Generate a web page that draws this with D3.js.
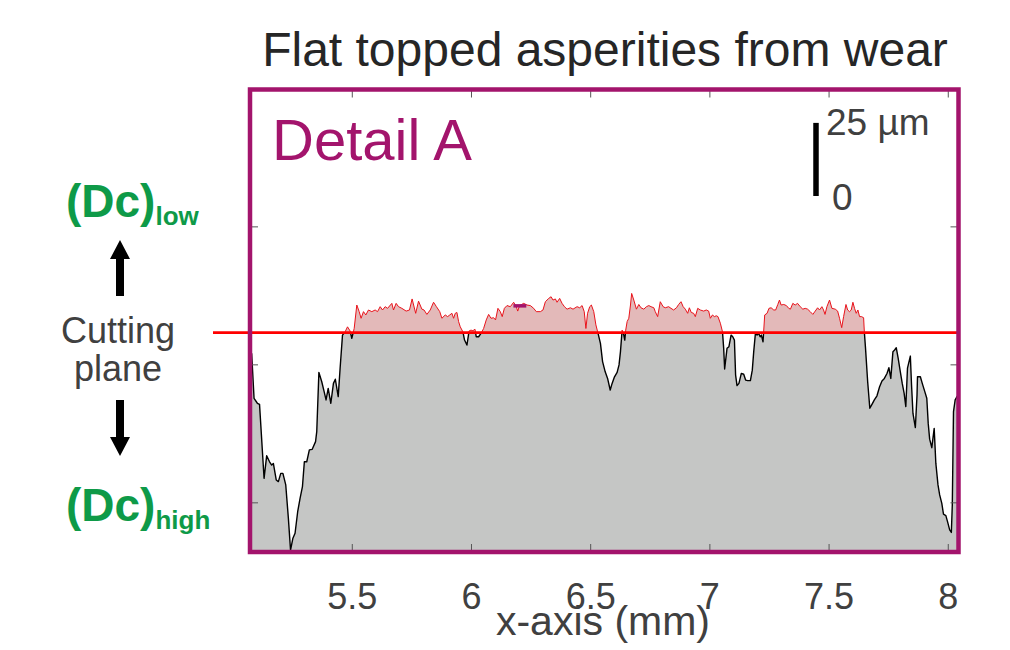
<!DOCTYPE html>
<html>
<head>
<meta charset="utf-8">
<script src="https://cdn.jsdelivr.net/npm/d3@7"></script>
<style>
	body { margin: 0; background: #fff; }
	svg { display: block; font-family: "Liberation Sans", Arial, Helvetica, sans-serif; }
</style>
</head>
<body>
<svg id="chart" width="1010" height="650"></svg>
<script>
// surface profile, [x in mm, height in um]
var profile = [
	[5.080,4.0],[5.090,-12.3],[5.104,-14.1],[5.113,-14.5],[5.132,-41.3],[5.143,-33.1],[5.155,-35.3],[5.164,-36.5],
	[5.171,-35.9],[5.183,-41.9],[5.192,-42.5],[5.202,-39.5],[5.211,-39.5],[5.223,-43.7],[5.234,-55.8],[5.243,-67.3],
	[5.253,-63.0],[5.262,-61.2],[5.273,-53.4],[5.283,-48.6],[5.293,-44.3],[5.301,-35.3],[5.311,-35.3],[5.322,-31.0],
	[5.334,-30.8],[5.348,-28.0],[5.353,-24.4],[5.362,-2.9],[5.374,-6.3],[5.384,-9.9],[5.392,-12.9],[5.401,-8.7],
	[5.412,-14.1],[5.423,-6.9],[5.431,-5.4],[5.443,-11.7],[5.451,-1.4],[5.461,10.6],[5.472,11.8],[5.482,13.6],
	[5.493,12.1],[5.500,9.4],[5.510,13.0],[5.521,21.5],[5.531,19.1],[5.539,16.7],[5.549,19.1],[5.559,17.9],
	[5.570,19.7],[5.584,19.1],[5.598,19.7],[5.608,19.1],[5.619,20.9],[5.629,19.7],[5.640,20.9],[5.650,20.3],
	[5.668,22.1],[5.675,19.7],[5.686,22.1],[5.696,20.9],[5.710,20.3],[5.728,19.3],[5.742,19.7],[5.753,23.7],
	[5.768,18.5],[5.780,22.9],[5.794,20.0],[5.803,19.7],[5.815,18.1],[5.829,19.7],
	[5.843,22.5],[5.855,20.9],[5.869,19.1],[5.878,16.7],[5.892,17.9],[5.902,17.3],[5.911,17.9],[5.920,18.5],
	[5.927,16.7],[5.934,18.5],[5.941,18.8],[5.948,15.5],[5.955,13.6],[5.966,11.8],[5.973,8.8],[5.983,7.0],
	[5.992,12.1],[6.000,12.4],[6.008,12.2],[6.017,12.7],[6.022,10.0],[6.032,10.0],[6.042,11.2],[6.053,13.0],
	[6.064,16.1],[6.074,18.1],[6.084,16.7],[6.095,16.9],[6.103,16.1],[6.113,20.3],[6.123,19.1],[6.131,17.3],
	[6.140,20.3],[6.151,21.3],[6.165,20.9],[6.179,22.5],[6.190,20.9],[6.196,19.3],[6.204,21.3],[6.221,22.1],
	[6.235,21.5],[6.249,21.3],[6.263,20.3],[6.274,19.1],[6.291,19.1],[6.302,19.7],[6.312,22.7],[6.326,23.9],
	[6.336,24.5],[6.344,23.3],[6.354,23.7],[6.361,22.5],[6.372,23.9],[6.382,22.1],[6.392,20.9],[6.403,20.0],
	[6.417,20.5],[6.428,20.0],[6.445,20.9],[6.456,20.5],[6.466,21.3],[6.475,19.1],[6.482,13.0],[6.489,18.5],
	[6.498,20.9],[6.505,21.5],[6.515,19.1],[6.524,14.3],[6.533,11.2],[6.543,7.6],[6.552,1.0],[6.563,-2.7],
	[6.573,-5.1],[6.584,-9.3],
	[6.592,-6.9],[6.602,-4.5],[6.613,-2.9],[6.621,-0.2],[6.627,4.6],[6.634,12.4],[6.641,10.6],[6.645,8.8],
	[6.649,12.4],[6.655,15.5],[6.662,16.7],[6.669,21.5],[6.674,25.7],[6.683,23.3],[6.694,20.0],[6.704,21.7],
	[6.713,20.5],[6.725,20.0],[6.736,20.9],[6.746,21.3],[6.755,20.9],[6.767,20.5],[6.773,19.1],[6.783,17.3],
	[6.794,22.7],[6.806,20.9],[6.815,20.5],[6.829,20.9],[6.839,20.3],[6.850,19.7],[6.862,20.5],[6.871,21.7],
	[6.881,22.7],[6.890,20.9],[6.899,20.0],[6.909,18.5],[6.916,20.5],[6.924,18.8],[6.934,18.5],[6.941,17.3],
	[6.951,20.3],[6.962,19.7],[6.976,19.3],[6.987,19.7],[6.997,19.3],[7.004,16.7],[7.013,17.9],[7.021,17.3],
	[7.029,17.6],[7.036,17.3],[7.046,14.9],[7.055,11.8],[7.060,5.8],[7.064,-1.7],[7.070,2.8],[7.074,5.8],
	[7.082,6.4],[7.091,10.6],[7.098,10.0],[7.105,8.8],[7.110,-3.9],[7.116,-7.7],[7.124,-6.9],[7.134,-3.3],
	[7.144,-3.6],[7.152,-5.7],[7.161,-5.9],[7.172,-5.9],[7.180,-2.1],[7.186,4.6],[7.193,11.2],[7.200,10.6],
	[7.207,11.2],[7.213,10.0],[7.218,10.6],[7.225,8.2],[7.232,17.9],[7.242,18.5],[7.250,20.3],[7.259,20.5],
	[7.270,19.7],[7.278,19.7],[7.287,21.7],[7.294,23.3],[7.301,21.5],[7.312,21.7],[7.323,21.3],[7.333,20.3],
	[7.340,20.0],
	[7.350,22.1],[7.360,21.5],[7.370,22.1],[7.381,20.9],[7.392,20.0],[7.402,20.3],[7.412,20.0],[7.423,19.1],
	[7.434,18.1],[7.444,19.3],[7.454,20.5],[7.462,19.7],[7.472,20.9],[7.479,19.7],[7.485,18.1],[7.493,20.9],
	[7.504,23.3],[7.514,20.3],[7.528,20.0],[7.538,19.3],[7.546,16.7],[7.555,13.3],[7.563,17.3],[7.573,21.7],
	[7.580,19.7],[7.588,19.1],[7.595,19.7],[7.602,22.5],[7.609,20.3],[7.616,18.5],[7.623,19.7],[7.630,17.3],
	[7.638,17.3],[7.647,16.9],[7.650,11.8],[7.655,5.8],[7.664,-6.3],[7.673,-15.9],[7.682,-14.5],[7.692,-12.9],
	[7.703,-11.4],[7.714,-8.1],[7.724,-6.0],[7.734,-5.1],[7.745,-3.3],[7.753,-1.2],[7.761,-5.1],[7.770,4.6],
	[7.777,5.2],[7.784,6.0],[7.792,2.2],[7.801,-2.7],[7.809,-6.9],[7.817,-10.5],[7.824,-15.3],[7.831,-1.4],
	[7.843,3.0],[7.848,-7.5],[7.854,-17.8],[7.864,-22.9],[7.871,-11.1],[7.873,-4.5],[7.885,-4.5],[7.893,-6.9],
	[7.903,-9.7],[7.912,-12.3],[7.918,-21.4],[7.924,-27.1],[7.933,-30.2],[7.943,-23.2],[7.950,-35.9],[7.959,-43.7],
	[7.966,-47.3],[7.975,-50.4],[7.982,-54.3],[7.992,-54.8],[7.999,-57.0],[8.008,-60.0],[8.015,-60.9],[8.019,-51.0],
	[8.024,-17.1],[8.031,-12.9],[8.040,-11.5]
];

var cuttingPlane = 11.5;           // um
var markerRange = [6.178, 6.232];  // small mark on the second asperity
var markerLevel = 21.2;
var xTicks = [5.5, 6, 6.5, 7, 7.5, 8];
var xTickLabels = ["5.5", "6", "6.5", "7", "7.5", "8"];
var yTicks = [-50, 0, 50];
var scaleBar = [61, 87.5];         // drawn as the 25 um bar
var scaleBarLabels = ["25 µm", "0"];

var xDomain = [5.073, 8.045];
var yDomain = [-68, 99.6];

var box = {left: 250, right: 958.5, top: 89.5, bottom: 552};
var frameColor = "#A3146C";
var textColor = "#404040";
var green = "#0E9A48";

var svg = d3.select("#chart");

var x = d3.scaleLinear().domain(xDomain).range([box.left, box.right]);
var y = d3.scaleLinear().domain(yDomain).range([box.bottom, box.top]);

var defs = svg.append("defs");
defs.append("clipPath").attr("id", "below")
	.append("rect")
	.attr("x", box.left).attr("y", y(cuttingPlane))
	.attr("width", box.right - box.left).attr("height", box.bottom - y(cuttingPlane));
defs.append("clipPath").attr("id", "above")
	.append("rect")
	.attr("x", box.left).attr("y", box.top)
	.attr("width", box.right - box.left).attr("height", y(cuttingPlane) - box.top);

var area = d3.area()
	.x(function(d){ return x(d[0]); })
	.y0(box.bottom)
	.y1(function(d){ return y(d[1]); });
var line = d3.line()
	.x(function(d){ return x(d[0]); })
	.y(function(d){ return y(d[1]); });

// material below the plane is grey, the part cut off above is pink
svg.append("path").datum(profile)
	.attr("d", area).attr("fill", "#C5C6C5")
	.attr("clip-path", "url(#below)");
svg.append("path").datum(profile)
	.attr("d", area).attr("fill", "#E3B9B9")
	.attr("clip-path", "url(#above)");
svg.append("path").datum(profile)
	.attr("d", line).attr("fill", "none")
	.attr("stroke", "#000").attr("stroke-width", 1.4)
	.attr("stroke-linejoin", "round")
	.attr("clip-path", "url(#below)");
svg.append("path").datum(profile)
	.attr("d", line).attr("fill", "none")
	.attr("stroke", "#E8131B").attr("stroke-width", 1)
	.attr("stroke-linejoin", "round")
	.attr("clip-path", "url(#above)");

svg.append("line")
	.attr("x1", x(markerRange[0])).attr("x2", x(markerRange[1]))
	.attr("y1", y(markerLevel)).attr("y2", y(markerLevel))
	.attr("stroke", frameColor).attr("stroke-width", 3.5);

// cutting plane reaches out to the label on the left
svg.append("line")
	.attr("x1", 213).attr("x2", box.right)
	.attr("y1", y(cuttingPlane)).attr("y2", y(cuttingPlane))
	.attr("stroke", "#FF0000").attr("stroke-width", 2.8);

// ticks on all four sides, pointing inwards
function styleAxis(g){
	g.select(".domain").remove();
	g.selectAll(".tick line").attr("stroke", "#555").attr("stroke-width", 1);
}
svg.append("g")
	.attr("transform", "translate(0," + box.bottom + ")")
	.call(d3.axisBottom(x).tickValues(xTicks).tickSize(-8).tickPadding(31)
		.tickFormat(function(d, i){ return xTickLabels[i]; }))
	.call(styleAxis)
	.call(function(g){
		g.selectAll("text").attr("fill", textColor)
			.attr("font-size", 36).attr("font-family", null);
	});
svg.append("g")
	.attr("transform", "translate(0," + box.top + ")")
	.call(d3.axisTop(x).tickValues(xTicks).tickSize(-8).tickFormat(""))
	.call(styleAxis);
svg.append("g")
	.attr("transform", "translate(" + box.left + ",0)")
	.call(d3.axisLeft(y).tickValues(yTicks).tickSize(-8).tickFormat(""))
	.call(styleAxis);
svg.append("g")
	.attr("transform", "translate(" + box.right + ",0)")
	.call(d3.axisRight(y).tickValues(yTicks).tickSize(-8).tickFormat(""))
	.call(styleAxis);

svg.append("rect")
	.attr("x", box.left).attr("y", box.top)
	.attr("width", box.right - box.left).attr("height", box.bottom - box.top)
	.attr("fill", "none").attr("stroke", frameColor).attr("stroke-width", 4.5);

svg.append("text")
	.attr("x", 605).attr("y", 66)
	.attr("text-anchor", "middle")
	.attr("font-size", 48).attr("fill", "#262626")
	.text("Flat topped asperities from wear");

svg.append("text")
	.attr("x", 603).attr("y", 635)
	.attr("text-anchor", "middle")
	.attr("font-size", 41).attr("fill", textColor)
	.text("x-axis (mm)");

svg.append("text")
	.attr("x", 272).attr("y", 160)
	.attr("font-size", 58).attr("fill", frameColor)
	.text("Detail A");

// 25 um scale bar
svg.append("line")
	.attr("x1", 816).attr("x2", 816)
	.attr("y1", y(scaleBar[0])).attr("y2", y(scaleBar[1]))
	.attr("stroke", "#000").attr("stroke-width", 5.5);
svg.append("text")
	.attr("x", 826).attr("y", 135)
	.attr("font-size", 37).attr("fill", textColor)
	.text(scaleBarLabels[0]);
svg.append("text")
	.attr("x", 832).attr("y", 210)
	.attr("font-size", 37).attr("fill", textColor)
	.text(scaleBarLabels[1]);

// left-hand annotation
function dcLabel(yBase, sub){
	var t = svg.append("text")
		.attr("x", 66).attr("y", yBase)
		.attr("font-weight", "bold").attr("fill", green);
	t.append("tspan").attr("font-size", 46).text("(Dc)");
	t.append("tspan").attr("font-size", 26).attr("dy", 8).text(sub);
}
dcLabel(217, "low");
dcLabel(521, "high");

svg.append("text")
	.attr("x", 118).attr("y", 343)
	.attr("text-anchor", "middle")
	.attr("font-size", 36).attr("fill", textColor)
	.text("Cutting");
svg.append("text")
	.attr("x", 118).attr("y", 381)
	.attr("text-anchor", "middle")
	.attr("font-size", 36).attr("fill", textColor)
	.text("plane");

svg.append("path")
	.attr("d", "M120,240 L130,259 L124,259 L124,296 L116,296 L116,259 L110,259 Z")
	.attr("fill", "#000");
svg.append("path")
	.attr("d", "M120,456 L130,437 L124,437 L124,400 L116,400 L116,437 L110,437 Z")
	.attr("fill", "#000");
</script>
</body>
</html>
